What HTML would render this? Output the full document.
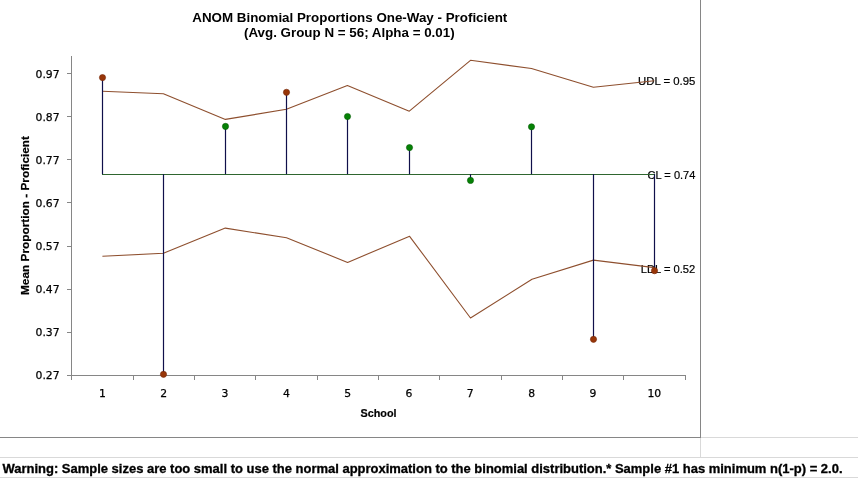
<!DOCTYPE html>
<html><head><meta charset="utf-8"><title>ANOM Binomial Proportions</title>
<style>
html,body{margin:0;padding:0;background:#fff;}
body{width:858px;height:478px;overflow:hidden;position:relative;}
svg{position:absolute;left:0;top:0;display:block;}
text{font-family:"Liberation Sans",Arial,sans-serif;fill:#000;}
.b{font-weight:bold;}
.ax text{font-family:"DejaVu Sans","Liberation Sans",sans-serif;font-size:10.8px;stroke:#000;stroke-width:0.25px;}
.lab text{font-size:11.3px;stroke:#000;stroke-width:0.2px;}
</style></head>
<body>
<svg width="858" height="478" viewBox="0 0 858 478">
  <rect x="0" y="0" width="858" height="478" fill="#fff"/>
  <!-- sheet gridlines -->
  <g stroke="#d9d9d9" stroke-width="1" shape-rendering="crispEdges">
    <line x1="701" y1="437.5" x2="858" y2="437.5"/>
    <line x1="700.5" y1="438" x2="700.5" y2="457"/>
    <line x1="0" y1="457.5" x2="858" y2="457.5"/>
    <line x1="0" y1="477.5" x2="858" y2="477.5"/>
  </g>
  <!-- chart frame -->
  <g stroke="#868686" stroke-width="1" shape-rendering="crispEdges" fill="none">
    <line x1="700.5" y1="0" x2="700.5" y2="438"/>
    <line x1="0" y1="437.5" x2="701" y2="437.5"/>
  </g>

  <!-- title -->
  <text class="b" x="192.3" y="21.5" font-size="13.33" textLength="315" lengthAdjust="spacingAndGlyphs">ANOM Binomial Proportions One-Way - Proficient</text>
  <text class="b" x="244" y="36.5" font-size="13.33" textLength="210.6" lengthAdjust="spacingAndGlyphs">(Avg. Group N = 56; Alpha = 0.01)</text>

  <!-- axes -->
  <g stroke="#868686" stroke-width="1" shape-rendering="crispEdges" fill="none">
    <line x1="71.5" y1="56" x2="71.5" y2="380"/>
    <line x1="67" y1="375.5" x2="686" y2="375.5"/>
    <line x1="67" y1="73.5" x2="71" y2="73.5"/>
    <line x1="67" y1="116.5" x2="71" y2="116.5"/>
    <line x1="67" y1="159.5" x2="71" y2="159.5"/>
    <line x1="67" y1="202.5" x2="71" y2="202.5"/>
    <line x1="67" y1="246.5" x2="71" y2="246.5"/>
    <line x1="67" y1="289.5" x2="71" y2="289.5"/>
    <line x1="67" y1="332.5" x2="71" y2="332.5"/>
    <line x1="133.5" y1="376" x2="133.5" y2="380"/>
    <line x1="194.5" y1="376" x2="194.5" y2="380"/>
    <line x1="255.5" y1="376" x2="255.5" y2="380"/>
    <line x1="317.5" y1="376" x2="317.5" y2="380"/>
    <line x1="378.5" y1="376" x2="378.5" y2="380"/>
    <line x1="439.5" y1="376" x2="439.5" y2="380"/>
    <line x1="501.5" y1="376" x2="501.5" y2="380"/>
    <line x1="562.5" y1="376" x2="562.5" y2="380"/>
    <line x1="623.5" y1="376" x2="623.5" y2="380"/>
    <line x1="685.5" y1="376" x2="685.5" y2="380"/>
  </g>

  <!-- y labels -->
  <g class="ax" text-anchor="end">
    <text x="59.6" y="77.8">0.97</text>
    <text x="59.6" y="120.8">0.87</text>
    <text x="59.6" y="163.8">0.77</text>
    <text x="59.6" y="206.8">0.67</text>
    <text x="59.6" y="249.8">0.57</text>
    <text x="59.6" y="292.8">0.47</text>
    <text x="59.6" y="335.8">0.37</text>
    <text x="59.6" y="378.8">0.27</text>
  </g>
  <!-- x labels -->
  <g class="ax" text-anchor="middle">
    <text x="102.4" y="396.7">1</text>
    <text x="163.7" y="396.7">2</text>
    <text x="225" y="396.7">3</text>
    <text x="286.4" y="396.7">4</text>
    <text x="347.7" y="396.7">5</text>
    <text x="409" y="396.7">6</text>
    <text x="470.3" y="396.7">7</text>
    <text x="531.6" y="396.7">8</text>
    <text x="593" y="396.7">9</text>
    <text x="654.3" y="396.7">10</text>
  </g>
  <!-- axis titles -->
  <text class="b" x="360.5" y="416.7" font-size="11.2" stroke="#000" stroke-width="0.2" textLength="36" lengthAdjust="spacingAndGlyphs">School</text>
  <text class="b" transform="translate(29.1,295) rotate(-90)" x="0" y="0" font-size="11.7" stroke="#000" stroke-width="0.2" textLength="159" lengthAdjust="spacingAndGlyphs">Mean Proportion - Proficient</text>

  <!-- limit labels -->
  <g class="lab">
    <text x="638" y="84.9" textLength="57.3" lengthAdjust="spacingAndGlyphs">UDL = 0.95</text>
    <text x="647.6" y="178.6" textLength="47.8" lengthAdjust="spacingAndGlyphs">CL = 0.74</text>
    <text x="640.7" y="272.6" textLength="54.6" lengthAdjust="spacingAndGlyphs">LDL = 0.52</text>
  </g>

  <!-- limit lines -->
  <g fill="none" stroke="#8e4f2e" stroke-width="1.1" stroke-linejoin="round">
    <polyline points="102.4,91.3 163.4,93.8 225.4,119.4 286.4,109.3 347.4,85.5 409.3,111.2 470.5,60.3 531.5,68.5 593.4,87.3 654.4,80.8"/>
    <polyline points="102.4,256.3 163.4,253.3 225.3,228.1 286.5,237.8 347.6,262.4 409.6,236.3 470.5,318 532,279.2 593.4,260.1 654.4,267.6"/>
  </g>
  <!-- center line -->
  <line x1="102" y1="174.5" x2="655" y2="174.5" stroke="#2f662f" stroke-width="1" shape-rendering="crispEdges"/>

  <!-- stems -->
  <g stroke="#10104a" stroke-width="1.2" fill="none">
    <line x1="102.5" y1="174.2" x2="102.5" y2="77.6"/>
    <line x1="163.5" y1="174.2" x2="163.5" y2="374.3"/>
    <line x1="225.5" y1="174.2" x2="225.5" y2="126.4"/>
    <line x1="286.5" y1="174.2" x2="286.5" y2="92.3"/>
    <line x1="347.5" y1="174.2" x2="347.5" y2="116.5"/>
    <line x1="409.5" y1="174.2" x2="409.5" y2="147.6"/>
    <line x1="470.5" y1="174.2" x2="470.5" y2="180.4"/>
    <line x1="531.5" y1="174.2" x2="531.5" y2="126.8"/>
    <line x1="593.5" y1="174.2" x2="593.5" y2="339.3"/>
    <line x1="654.5" y1="174.2" x2="654.5" y2="270.7"/>
  </g>

  <!-- points -->
  <g>
    <circle cx="102.5" cy="77.6" r="3.1" fill="#983608" stroke="#76290a" stroke-width="0.6"/>
    <circle cx="163.5" cy="374.3" r="3.1" fill="#983608" stroke="#76290a" stroke-width="0.6"/>
    <circle cx="225.5" cy="126.4" r="3.1" fill="#058205" stroke="#055a05" stroke-width="0.6"/>
    <circle cx="286.5" cy="92.3" r="3.1" fill="#983608" stroke="#76290a" stroke-width="0.6"/>
    <circle cx="347.5" cy="116.5" r="3.1" fill="#058205" stroke="#055a05" stroke-width="0.6"/>
    <circle cx="409.5" cy="147.6" r="3.1" fill="#058205" stroke="#055a05" stroke-width="0.6"/>
    <circle cx="470.5" cy="180.4" r="3.1" fill="#058205" stroke="#055a05" stroke-width="0.6"/>
    <circle cx="531.5" cy="126.8" r="3.1" fill="#058205" stroke="#055a05" stroke-width="0.6"/>
    <circle cx="593.5" cy="339.3" r="3.1" fill="#983608" stroke="#76290a" stroke-width="0.6"/>
    <circle cx="654.5" cy="270.7" r="3.1" fill="#983608" stroke="#76290a" stroke-width="0.6"/>
  </g>

  <!-- warning -->
  <text class="b" x="2.5" y="472.7" font-size="12.3" stroke="#000" stroke-width="0.3" textLength="840" lengthAdjust="spacingAndGlyphs">Warning: Sample sizes are too small to use the normal approximation to the binomial distribution.* Sample #1 has minimum n(1-p) = 2.0.</text>
</svg>
</body></html>
